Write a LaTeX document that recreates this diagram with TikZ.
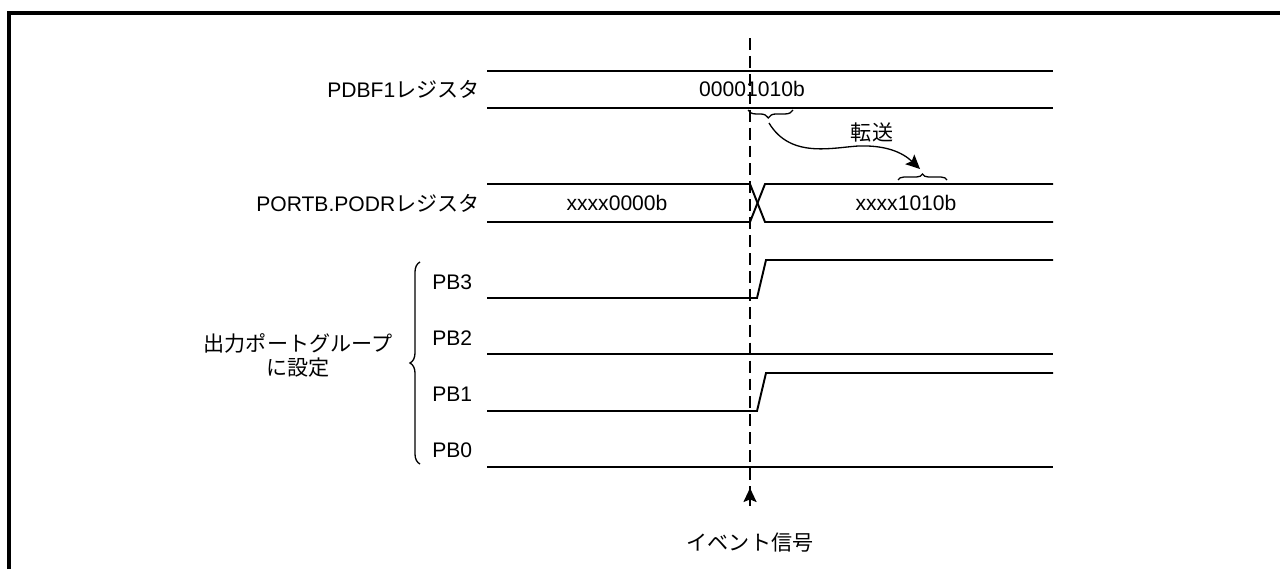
\documentclass[tikz,border=0pt]{standalone}
\usepackage{fontspec}
\setmainfont{Liberation Sans}
\newfontfamily\jp{Noto Sans CJK JP}
\usetikzlibrary{arrows.meta, decorations.pathreplacing, calc}

\begin{document}
\begin{tikzpicture}[
    x=0.02cm, y=-0.02cm,
    sig/.style={line width=1.1pt},
    lbl/.style={anchor=east, inner sep=0pt, font=\fontsize{12}{14}\selectfont},
    val/.style={inner sep=0pt, font=\fontsize{12}{13.7}\selectfont},
    brc/.style={decorate, decoration={brace, amplitude=#1}, line width=0.75pt},
    arrow/.style={-{Stealth[length=8pt, width=7.5pt, inset=1.5pt]}, line width=0.75pt}
]
\useasboundingbox (0,0) rectangle (1280,569);

% Rahmen
\draw[line width=2.1pt] (9,569) -- (9,13) -- (1280,13);

% PDBF1
\node[lbl] (pdbf) at (480,89) {PDBF1{\jp レジスタ}};
\draw[sig] (487,71) -- (1053,71);
\draw[sig] (487,108) -- (1053,108);
\node[val] (pdbfval) at (752,89) {00001010b};

% PORTB.PODR
\node[lbl] (podr) at (480,203) {PORTB.PODR{\jp レジスタ}};
\draw[sig] (487,184) -- (750,184) -- (765,222) -- (1053,222);
\draw[sig] (487,222) -- (750,222) -- (765,184) -- (1053,184);
\node[val] (podrold) at (617,203) {xxxx0000b};
\node[val] (podrnew) at (906,203) {xxxx1010b};

% Transfer
\draw[brc=4.5pt, decoration={mirror, aspect=0.45}] (748,110) -- (793,110);
\draw[brc=3.4pt] (898,180) -- (947,180);
\coordinate (src) at (769,123);
\coordinate (dst) at (920,169);
\node[val] (xfer) at (872,132) {\jp 転送};
\draw[arrow] (src) .. controls (790,158) and (830,148) .. (858,146)
    .. controls (885,145) and (902,152) .. (dst);

% Port pins
\node[val, anchor=west] (pb3) at (432,282) {PB3};
\node[val, anchor=west] (pb2) at (432,338) {PB2};
\node[val, anchor=west] (pb1) at (432,394) {PB1};
\node[val, anchor=west] (pb0) at (432,450) {PB0};
\draw[sig] (487,298) -- (757,298) -- (766,260) -- (1053,260);
\draw[sig] (487,354) -- (1053,354);
\draw[sig] (487,411) -- (757,411) -- (766,373) -- (1053,373);
\draw[sig] (487,467) -- (1053,467);

\draw[brc=5.7pt] (420,464) -- (420,262);
\node[val, align=center] (grp) at (298,355) {\jp 出力ポートグループ\\\jp に設定};

% Event
\node[val] (ev) at (750,543) {\jp イベント信号};
\coordinate (evtop) at (750,38);
\coordinate (evbase) at (750,506);
\coordinate (evtip) at (750,488);
\draw[line width=1.4pt, dash pattern=on 6.8pt off 3.4pt] (evtop) -- (evbase);
\draw[arrow] (evbase) -- (evtip);

\end{tikzpicture}
\end{document}
